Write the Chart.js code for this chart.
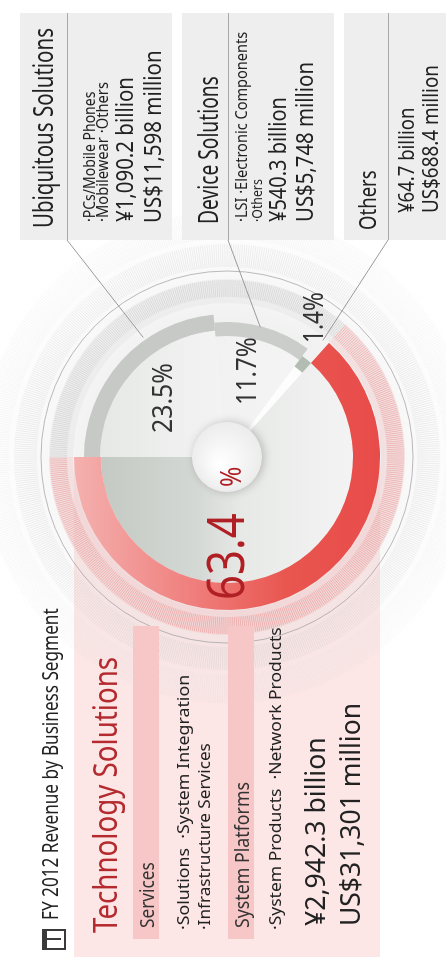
<!DOCTYPE html>
<html>
<head>
<meta charset="utf-8">
<script src="https://cdn.jsdelivr.net/npm/chart.js@4.4.1/dist/chart.umd.min.js"></script>
<style>
  html, body { margin: 0; padding: 0; width: 446px; height: 966px; overflow: hidden; background: #fff; }
  #frame {
    position: absolute; left: 0; top: 0; width: 966px; height: 446px;
    transform-origin: 0 0; transform: translate(0, 966px) rotate(-90deg);
    font-family: "Noto Sans", sans-serif;
  }
  #frame canvas { position: absolute; left: 0; top: 0; }
  .blk { position: absolute; }
  .t { position: absolute; white-space: pre; line-height: 1; transform-origin: 0 0; color: #222; }
  .info { position: absolute; left: 726px; width: 227px; background: #eeeeee; }
  .info .rule { position: absolute; left: 0; right: 0; height: 1px; background: #a9a9a9; }
</style>
</head>
<body>
<div id="frame">
  <div class="blk" style="left:9px;top:74px;width:497px;height:306px;background:#fce6e6"></div>
  <canvas id="revenueChart" width="966" height="446"></canvas>
  <div class="blk" style="left:27px;top:133px;width:313px;height:26px;background:#f7c6c6"></div>
  <div class="blk" style="left:27px;top:228px;width:313px;height:26px;background:#f7c6c6"></div>
  <div class="info" style="top:20px;height:152px"><div class="rule" style="top:47px"></div></div>
  <div class="info" style="top:182px;height:152px"><div class="rule" style="top:46px"></div></div>
  <div class="info" style="top:344px;height:120px"><div class="rule" style="top:44px"></div></div>
  <div class="blk" style="left:16px;top:42px;width:17px;height:17px;border:2px solid #3a3a3a;border-top-width:5px"></div>
  <div class="blk" style="left:26px;top:46px;width:2px;height:15px;background:#3a3a3a"></div>
</div>
<script>
const segments = ["Ubiquitous Solutions", "Device Solutions", "Others", "Technology Solutions"];
const shares = [23.5, 11.7, 1.4, 63.4];
const revenueYen = ["¥1,090.2 billion", "¥540.3 billion", "¥64.7 billion", "¥2,942.3 billion"];
const revenueUsd = ["US$11,598 million", "US$5,748 million", "US$688.4 million", "US$31,301 million"];

// ring geometry per segment (px)
const bandOuter = [143, 135, 126, 153];
const bandInner = [127, 121, 113, 126];
const hubRadius = 35;
// where each leader line meets its slice, and where it meets its box
const leaderFrac = [0.65, 0.47, 0.54];
const leaderRad = [146, 134, 151];
const leaderBox = [[726, 67], [726, 228], [726, 388]];

const frame = document.getElementById("frame");

function addText(str, x, capTop, capH, width, color) {
  const fs = capH / 0.714;
  const el = document.createElement("div");
  el.className = "t";
  el.textContent = str;
  el.style.fontSize = fs + "px";
  el.style.left = x + "px";
  el.style.top = (capTop - 0.174 * fs) + "px";
  if (color) el.style.color = color;
  frame.appendChild(el);
  el.style.transform = "scaleX(" + (width / el.offsetWidth) + ")";
}

function pct(i) {
  return shares[i].toFixed(1) + "%";
}

function bandColor(c) {
  const i = c.dataIndex;
  if (i === 3) {
    const g = c.chart.ctx.createLinearGradient(0, 74, 0, 380);
    g.addColorStop(0, "#f4b1af");
    g.addColorStop(0.4, "#ef7d7b");
    g.addColorStop(0.7, "#e9554f");
    g.addColorStop(1, "#e84c4a");
    return g;
  }
  return ["#c6c9c6", "#cacdca", "#b3bcb3"][i];
}

function wedgeColor(c) {
  const i = c.dataIndex;
  const ctx = c.chart.ctx;
  if (i === 3) {
    const g = ctx.createLinearGradient(0, 74, 0, 380);
    g.addColorStop(0, "#bfc5bf");
    g.addColorStop(0.4, "#d4d8d4");
    g.addColorStop(0.55, "#e7e9e7");
    g.addColorStop(1, "#f6f6f6");
    return g;
  }
  if (i === 0) {
    const g = ctx.createLinearGradient(0, 74, 0, 230);
    g.addColorStop(0, "#e3e6e3");
    g.addColorStop(1, "#f4f4f4");
    return g;
  }
  if (i === 1) {
    const g = ctx.createLinearGradient(0, 150, 0, 300);
    g.addColorStop(0, "#dfe2df");
    g.addColorStop(0.35, "#f1f1f1");
    g.addColorStop(1, "#f4f4f4");
    return g;
  }
  return "rgba(255,255,255,0.85)";
}

function segmentAt(arcs, a) {
  const base = arcs[0].startAngle;
  let t = a;
  while (t < base) t += Math.PI * 2;
  while (t >= base + Math.PI * 2) t -= Math.PI * 2;
  for (let i = 0; i < arcs.length; i++) {
    if (t >= arcs[i].startAngle && t < arcs[i].endAngle) return i;
  }
  return 0;
}

const dialPlugin = {
  id: "dial",
  beforeDatasetsDraw(chart) {
    const band = chart.getDatasetMeta(0).data;
    const wedge = chart.getDatasetMeta(1).data;
    band.forEach((arc, i) => { arc.innerRadius = bandInner[i]; arc.outerRadius = bandOuter[i]; });
    wedge.forEach((arc, i) => { arc.innerRadius = hubRadius; arc.outerRadius = bandInner[i]; });

    const ctx = chart.ctx;
    const cx = band[0].x, cy = band[0].y;
    ctx.save();

    // soft halo
    const halo = ctx.createRadialGradient(cx, cy, 140, cx, cy, 255);
    halo.addColorStop(0, "rgba(210,210,210,0.3)");
    halo.addColorStop(1, "rgba(235,235,235,0)");
    ctx.fillStyle = halo;
    ctx.beginPath();
    ctx.arc(cx, cy, 255, 0, Math.PI * 2);
    ctx.fill();

    // pale band just outside the slices, tinted by segment
    band.forEach((arc, i) => {
      ctx.fillStyle = i === 3 ? "rgba(242,205,205,0.5)" : "rgba(228,228,228,0.45)";
      ctx.beginPath();
      ctx.arc(cx, cy, 178, arc.startAngle, arc.endAngle);
      ctx.arc(cx, cy, 154, arc.endAngle, arc.startAngle, true);
      ctx.closePath();
      ctx.fill();
    });

    function ticks(r0, r1, n, colorOf) {
      ctx.lineWidth = 0.8;
      for (let k = 0; k < n; k++) {
        const a = (k / n) * Math.PI * 2;
        const cos = Math.cos(a), sin = Math.sin(a);
        ctx.strokeStyle = colorOf(a);
        ctx.beginPath();
        ctx.moveTo(cx + r0 * cos, cy + r0 * sin);
        ctx.lineTo(cx + r1 * cos, cy + r1 * sin);
        ctx.stroke();
      }
    }
    ticks(160, 177, 540, (a) => segmentAt(band, a) === 3 ? "rgba(225,95,95,0.42)" : "rgba(165,165,165,0.35)");
    ticks(190, 213, 600, () => "rgba(170,170,170,0.22)");
    ticks(218, 246, 640, () => "rgba(190,190,190,0.14)");

    ctx.strokeStyle = "rgba(150,150,150,0.65)";
    ctx.lineWidth = 1;
    ctx.beginPath();
    ctx.arc(cx, cy, 186, 0, Math.PI * 2);
    ctx.stroke();
    ctx.restore();
  },
  afterDatasetsDraw(chart) {
    const band = chart.getDatasetMeta(0).data;
    const ctx = chart.ctx;
    const cx = band[0].x, cy = band[0].y;
    ctx.save();

    // leader lines
    ctx.strokeStyle = "#9a9a9a";
    ctx.lineWidth = 1;
    leaderBox.forEach((p, i) => {
      const arc = band[i];
      const a = arc.startAngle + leaderFrac[i] * (arc.endAngle - arc.startAngle);
      ctx.beginPath();
      ctx.moveTo(p[0], p[1]);
      ctx.lineTo(cx + leaderRad[i] * Math.cos(a), cy + leaderRad[i] * Math.sin(a));
      ctx.stroke();
    });

    // hub
    ctx.shadowColor = "rgba(0,0,0,0.22)";
    ctx.shadowBlur = 10;
    ctx.shadowOffsetY = 2;
    const hub = ctx.createRadialGradient(cx - 8, cy - 8, 2, cx, cy, hubRadius);
    hub.addColorStop(0, "#ffffff");
    hub.addColorStop(1, "#ececec");
    ctx.fillStyle = hub;
    ctx.beginPath();
    ctx.arc(cx, cy, hubRadius, 0, Math.PI * 2);
    ctx.fill();
    ctx.restore();
  }
};

new Chart(document.getElementById("revenueChart"), {
  type: "doughnut",
  data: {
    labels: segments,
    datasets: [
      { label: "band", data: shares, backgroundColor: bandColor, borderWidth: 0 },
      { label: "wedge", data: shares, backgroundColor: wedgeColor, borderWidth: 0 }
    ]
  },
  options: {
    responsive: false,
    animation: false,
    events: [],
    rotation: 0,
    layout: { padding: { left: 52, top: 8 } },
    plugins: {
      legend: { display: false },
      tooltip: { enabled: false }
    }
  },
  plugins: [dialPlugin]
});

// left block: Technology Solutions
addText("FY 2012 Revenue by Business Segment", 46, 44, 15, 312, "#222");
addText(segments[3], 33, 94, 24, 276, "#b42a2f");
addText("Services", 38, 140, 14, 66, "#333");
addText("·Solutions  ·System Integration", 36, 178, 12, 255, "#222");
addText("·Infrastructure Services", 36, 199, 12, 187, "#222");
addText("System Platforms", 38, 235, 14, 146, "#333");
addText("·System Products  ·Network Products", 36, 270, 12, 303, "#222");
addText(revenueYen[3], 40, 305, 20, 189, "#222");
addText(revenueUsd[3], 40, 340, 20, 223, "#222");

// right boxes
addText(segments[0], 738, 35, 19, 200, "#222");
addText("·PCs/Mobile Phones", 744, 84, 12, 130, "#222");
addText("·Mobilewear ·Others", 744, 97, 12, 140, "#222");
addText(revenueYen[0], 744, 117, 17, 145, "#222");
addText(revenueUsd[0], 743, 145, 17, 173, "#222");

addText(segments[1], 742, 200, 19, 148, "#222");
addText("·LSI ·Electronic Components", 744, 237, 11, 190, "#222");
addText("·Others", 744, 252, 10, 43, "#222");
addText(revenueYen[1], 744, 270, 17, 125, "#222");
addText(revenueUsd[1], 744, 297, 17, 160, "#222");

addText(segments[2], 736, 360, 17, 60, "#222");
addText(revenueYen[2], 753, 400, 15, 105, "#222");
addText(revenueUsd[2], 753, 423, 16, 148, "#222");

// slice labels
addText(pct(0), 533, 152, 20, 70, "#333");
addText(pct(1), 561, 236, 20, 68, "#333");
addText(pct(2), 623, 303, 20, 51, "#333");
addText(shares[3].toFixed(1), 366, 208, 37, 87, "#b01f24");
addText("%", 479, 221, 21, 20, "#b01f24");
</script>
</body>
</html>
